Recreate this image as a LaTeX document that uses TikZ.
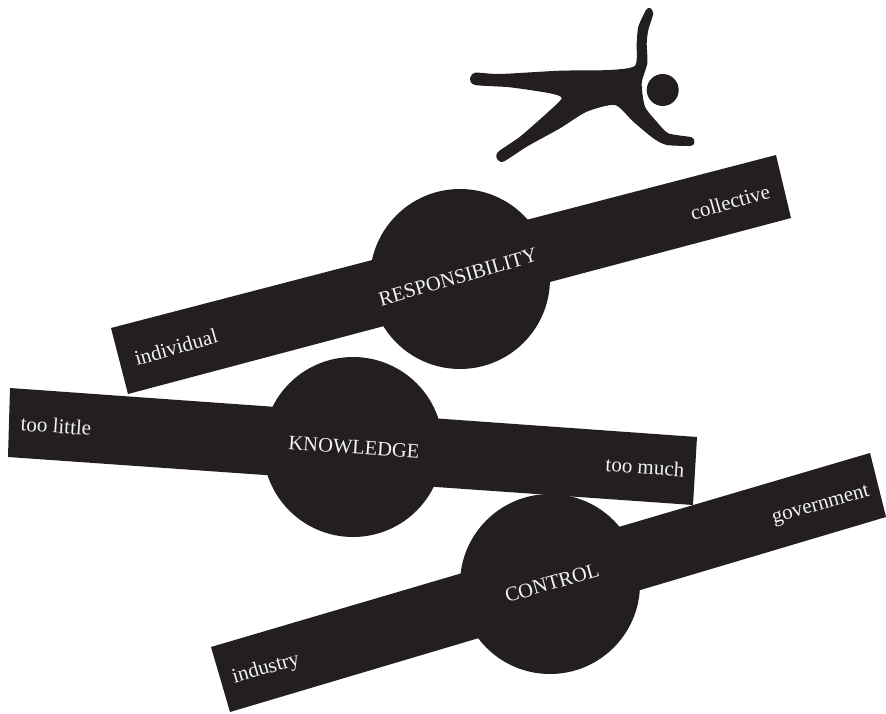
\documentclass[tikz,border=0pt]{standalone}
\usepackage{fontspec}
\setmainfont{Liberation Serif}
\definecolor{barblack}{HTML}{231F20}
\definecolor{labelwhite}{HTML}{F2F2F2}
\tikzset{
  barlabel/.style={text=labelwhite,font=\fontsize{21}{21}\selectfont,inner sep=0pt},
  axislabel/.style={text=labelwhite,font=\fontsize{20.5}{20.5}\selectfont,inner sep=0pt},
  bigcircle/.style={fill=barblack,draw=none,circle,minimum size=180pt,inner sep=0pt}
}
\begin{document}
\begin{tikzpicture}[x=1pt,y=-1pt]
\useasboundingbox (0,0) rectangle (886,714);

% responsibility
\fill[barblack] (111,328) -- (776,155) -- (791,218) -- (128,394) -- cycle;
\node[bigcircle] (c1) at (460,279) {};
\node[axislabel,rotate=16] (t1) at (458,277) {RESPONSIBILITY};
\node[barlabel,rotate=16] (a1) at (176,347) {individual};
\node[barlabel,rotate=16] (b1) at (730,202) {collective};

% knowledge
\fill[barblack] (10,388) -- (697,437) -- (693,505) -- (8,457) -- cycle;
\node[bigcircle] (c2) at (353,447) {};
\node[axislabel,rotate=-4] (t2) at (354,447) {KNOWLEDGE};
\node[barlabel,rotate=-4] (a2) at (56,426) {too little};
\node[barlabel,rotate=-4] (b2) at (645,467) {too much};

% control
\fill[barblack] (211,647) -- (870,453) -- (886,517) -- (230,712) -- cycle;
\node[bigcircle] (c3) at (550,584) {};
\node[axislabel,rotate=16] (t3) at (552,583) {CONTROL};
\node[barlabel,rotate=16] (a3) at (266,669) {industry};
\node[barlabel,rotate=16] (b3) at (821,506) {government};

% figure
\fill[barblack] plot[smooth cycle,tension=0.4] coordinates {
(475,72.7) (500,74) (560,70.7) (610,70) (635,65.7) (636.7,43.3) (638.3,26.7) (646,10) (650,8)
(653.3,13.3) (648.3,30) (646.7,43.3) (647.3,63.3) (641.7,83.3) (645,106.7) (656.7,121.7)
(668.3,133.3) (691.7,137.3) (694.3,141.7) (691.7,145.7) (666.7,145) (653.3,138.3) (633.3,121.7)
(615,105) (586.7,111.7) (560,128.3) (526.7,146.7) (503.3,161.7) (496.7,158.3) (498.3,151.7)
(520,136.7) (546.7,113.3) (561.7,98.3) (550,93.3) (510,87.3) (475,85) (470,79)};
\node[fill=barblack,circle,minimum size=32pt,inner sep=0pt] (head) at (662.7,90) {};
\end{tikzpicture}
\end{document}
